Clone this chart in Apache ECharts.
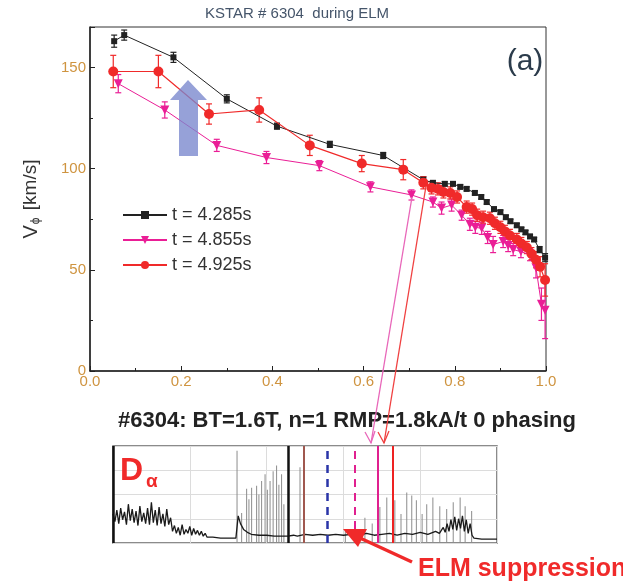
<!DOCTYPE html>
<html><head><meta charset="utf-8">
<script src="https://cdn.jsdelivr.net/npm/echarts@6/dist/echarts.min.js"></script>
<style>html,body{margin:0;padding:0;background:#fff}#c{width:623px;height:584px}</style>
</head><body><div id="c"></div>
<script>
// ---------- main panel data ----------
const seriesNames = ['t = 4.285s', 't = 4.855s', 't = 4.925s'];
const xTicks = [0.0, 0.2, 0.4, 0.6, 0.8, 1.0];
const yTicks = [0, 50, 100, 150];

const xBlack = [0.053,0.075,0.183,0.300,0.410,0.526,0.643,0.731,0.752,0.778,0.796,0.812,0.826,0.844,0.858,0.870,0.886,0.900,0.912,0.922,0.936,0.946,0.955,0.965,0.974,0.986,0.998];
const yBlack = [163,166,155,134.5,121,112,106.5,94.5,93,92.5,92.5,91,90,88,86,83.5,80,78.5,76,74,72,70,68.5,66.5,65,60,56];
const eBlack = [3,2.5,2.5,2,1.5,1.5,1.5,1.5,1,1,1,1,1,1,1,1,1,1,1,1,1,1,1,1,1,1.5,2];

const xMag = [0.062,0.164,0.278,0.387,0.503,0.615,0.705,0.752,0.771,0.793,0.815,0.833,0.845,0.859,0.872,0.884,0.906,0.917,0.928,0.945,0.965,0.978,0.990,0.998];
const yMag = [142,129,111.5,105.5,101.5,91,87,83.5,80.5,82,77,72.5,71,70.5,66,62.5,64,62,60,59,57.5,51,33,30];
const eMag = [4.5,4,3,3,2.5,2.5,2.5,2.5,3,3,2.5,3,3,3,3,4,3,3,3,3,3,5,8,14];

const xRed = [0.051,0.150,0.261,0.371,0.482,0.596,0.687,0.731,0.749,0.763,0.775,0.790,0.805,0.826,0.838,0.849,0.862,0.877,0.888,0.900,0.910,0.921,0.936,0.946,0.958,0.968,0.978,0.987,0.998];
const yRed = [148,148,127,129,111.5,102.5,99.5,93,90.5,90,88.5,88,86,81,80,77,76,75.5,73,71,69,67,65,63,61,58,55,51.5,45];
const eRed = [8,8,5,6,5,4,5,3,3,3,3,3,3,3,3,3,3,3,3,3,3,3,3,3,3,3,4,5,8];

// ---------- D-alpha inset data (arbitrary time units 0..100, signal 0..1) ----------
const dalphaBase = [[0,0.30],[0.5,0.22],[1,0.34],[1.5,0.20],[2,0.36],[2.5,0.24],[3,0.32],[3.5,0.19],[4,0.40],[4.5,0.23],[5,0.35],[5.5,0.21],[6,0.33],[6.5,0.18],[7,0.38],[7.5,0.22],[8,0.31],[8.5,0.20],[9,0.36],[9.5,0.19],[10,0.42],[10.5,0.21],[11,0.34],[11.5,0.18],[12,0.37],[12.5,0.20],[13,0.30],[13.5,0.17],[14,0.35],[14.5,0.19],
  [15,0.26],[15.5,0.12],[16,0.18],[16.5,0.10],[17,0.16],[17.5,0.08],[18,0.19],[18.5,0.09],[19,0.14],[19.5,0.10],[20,0.17],[20.5,0.08],[21,0.15],[21.5,0.09],[22,0.13],[22.5,0.08],[23,0.12],[23.5,0.07],[24,0.10],[24.5,0.06],
  [26,0.06],[28,0.05],[30,0.05],[32,0.05],[32.3,0.05],[32.6,0.28],[33.2,0.20],[34,0.14],[35,0.11],[36,0.09],[38,0.08],[40,0.08],[42,0.07],[45,0.07],
  [45.6,0.07],[47,0.08],[48,0.07],[50,0.09],[52,0.08],[54,0.09],[56,0.08],[58,0.09],[60,0.08],[62,0.09],[64,0.08],[66,0.10],[68,0.08],[70,0.09],[72,0.10],[74,0.08],[76,0.10],[78,0.09],[80,0.11],[82,0.09],[84,0.12],[85,0.10],[86,0.16],[86.5,0.11],[87,0.20],[87.5,0.12],[88,0.24],[88.5,0.14],[89,0.27],[89.5,0.13],[90,0.25],[90.5,0.15],[91,0.28],[91.5,0.12],[92,0.24],[92.5,0.10],[93,0.20],[93.5,0.08],[94,0.05],[96,0.04],[98,0.04],[100,0.04]];
const dalphaSpikes = [[32.3,0.95],[33.5,0.31],[34.8,0.56],[35.4,0.45],[36.1,0.57],[37.4,0.59],[38.0,0.50],[38.7,0.64],[39.6,0.71],[40.2,0.55],[40.9,0.64],[41.7,0.74],[42.6,0.80],[43.2,0.60],[43.9,0.71],[44.5,0.40],[48.7,0.78],[60.5,0.14],[65.6,0.26],[67.5,0.20],[69.5,0.37],[71.3,0.47],[73.4,0.44],[75.0,0.30],[76.5,0.52],[77.8,0.49],[79.0,0.44],[80.5,0.30],[81.7,0.40],[83.3,0.47],[85.1,0.38],[86.9,0.35],[88.6,0.42],[90.4,0.47],[91.7,0.38],[93.4,0.33]];
const markerTimes = [0, 45.6, 49.7, 55.7, 63.0, 69.0, 72.9];

// ---------- styling (kept separate from data) ----------
const markerStyles = [
  {color:'#111', width:2.5, type:'solid'},
  {color:'#111', width:2.5, type:'solid'},
  {color:'#a0584f', width:2, type:'solid'},
  {color:'#2a35a8', width:2.5, type:[8,6]},
  {color:'#e0208f', width:2, type:[8,6]},
  {color:'#e0208f', width:2, type:'solid'},
  {color:'#ee2222', width:2, type:'solid'}
];
const C_BLACK = '#222222', C_MAG = '#ea1e96', C_RED = '#f02a2a';
const labelColor = '#cf9440';
const FONT = 'Arial, "Liberation Sans", sans-serif';

function zip(xs, ys) { return xs.map((x, i) => [x, ys[i]]); }
function errSeries(xs, ys, es, color) {
  return {
    type: 'custom', xAxisIndex: 0, yAxisIndex: 0, silent: true, z: 3,
    data: xs.map((x, i) => [x, ys[i] - es[i], ys[i] + es[i]]),
    encode: {x: 0, y: [1, 2]},
    renderItem(params, api) {
      const lo = api.coord([api.value(0), api.value(1)]);
      const hi = api.coord([api.value(0), api.value(2)]);
      const w = 3, st = {stroke: color, lineWidth: 1.2};
      return {type: 'group', children: [
        {type: 'line', shape: {x1: lo[0], y1: lo[1], x2: hi[0], y2: hi[1]}, style: st},
        {type: 'line', shape: {x1: lo[0]-w, y1: lo[1], x2: lo[0]+w, y2: lo[1]}, style: st},
        {type: 'line', shape: {x1: hi[0]-w, y1: hi[1], x2: hi[0]+w, y2: hi[1]}, style: st}
      ]};
    }
  };
}

const chart = echarts.init(document.getElementById('c'), null, {renderer: 'canvas'});
const option = {
  backgroundColor: '#fff',
  animation: false,
  textStyle: {fontFamily: FONT},
  grid: [
    {left: 90, right: 77, top: 27, bottom: 213, show: true, borderColor: '#333', borderWidth: 1, z: 0},
    {left: 113, right: 126, top: 446, bottom: 41, show: true, borderColor: '#666', borderWidth: 1.5, backgroundColor: '#fff'}
  ],
  legend: {
    left: 117, top: 201, orient: 'vertical', itemWidth: 44, itemHeight: 10, itemGap: 7,
    data: seriesNames,
    textStyle: {fontSize: 18, color: '#333', fontFamily: FONT}
  },
  xAxis: [
    {type: 'value', gridIndex: 0, min: 0, max: 1, interval: 0.2,
     axisLine: {lineStyle: {color: '#222', width: 1.5}},
     axisTick: {inside: true, length: 5, lineStyle: {color: '#222'}},
     minorTick: {show: true, splitNumber: 2, length: 3, lineStyle: {color: '#222'}},
     splitLine: {show: false},
     axisLabel: {margin: 3, fontSize: 15, color: labelColor, fontFamily: FONT,
       formatter: v => xTicks.find(t => Math.abs(t - v) < 1e-9).toFixed(1)}},
    {type: 'value', gridIndex: 1, min: 0, max: 100, interval: 20,
     axisLine: {show: false}, axisTick: {show: false}, axisLabel: {show: false},
     splitLine: {show: true, lineStyle: {color: '#dcdcdc', width: 1}}}
  ],
  yAxis: [
    {type: 'value', gridIndex: 0, min: 0, max: 170, interval: 50,
     axisLine: {show: true, lineStyle: {color: '#222', width: 1.5}},
     axisTick: {show: true, inside: true, length: 5, lineStyle: {color: '#222'}},
     minorTick: {show: true, splitNumber: 2, length: 3, lineStyle: {color: '#222'}},
     splitLine: {show: false},
     axisLabel: {margin: 4, fontSize: 15, color: labelColor, fontFamily: FONT, showMaxLabel: false,
       formatter: v => (yTicks.indexOf(v) >= 0 ? String(v) : '')},
     name: '{v|V}{s|\u03d5} [km/s]', nameLocation: 'middle', nameGap: 48, nameRotate: 90,
     nameTextStyle: {fontSize: 19, color: '#333', fontFamily: FONT,
       rich: {v: {fontSize: 20, color: '#333', fontFamily: FONT},
              s: {fontSize: 12, color: '#333', fontFamily: FONT, verticalAlign: 'bottom', padding: [10, 2, 0, 1]}}}},
    {type: 'value', gridIndex: 1, min: 0, max: 1, interval: 0.25,
     axisLine: {show: false}, axisTick: {show: false}, axisLabel: {show: false},
     splitLine: {show: true, lineStyle: {color: '#dcdcdc', width: 1}}}
  ],
  series: [
    errSeries(xBlack, yBlack, eBlack, C_BLACK),
    errSeries(xMag, yMag, eMag, C_MAG),
    errSeries(xRed, yRed, eRed, C_RED),
    {name: seriesNames[0], type: 'line', data: zip(xBlack, yBlack), z: 4,
     symbol: 'rect', symbolSize: 6, itemStyle: {color: C_BLACK}, lineStyle: {color: C_BLACK, width: 1}},
    {name: seriesNames[1], type: 'line', data: zip(xMag, yMag), z: 5,
     symbol: 'triangle', symbolRotate: 180, symbolSize: 9, itemStyle: {color: C_MAG}, lineStyle: {color: C_MAG, width: 1}},
    {name: seriesNames[2], type: 'line', data: zip(xRed, yRed), z: 6,
     symbol: 'circle', symbolSize: 10, itemStyle: {color: C_RED}, lineStyle: {color: C_RED, width: 1.2}},
    // inset
    {type: 'bar', xAxisIndex: 1, yAxisIndex: 1, data: dalphaSpikes, barWidth: 1, silent: true,
     itemStyle: {color: '#8c8c8c'}},
    {type: 'line', xAxisIndex: 1, yAxisIndex: 1, data: dalphaBase, showSymbol: false, silent: true,
     lineStyle: {color: '#1a1a1a', width: 1.3},
     markLine: {silent: true, symbol: 'none', label: {show: false},
       data: markerTimes.map((t, i) => ({xAxis: t, lineStyle: markerStyles[i]}))}}
  ],
  graphic: [
    {type: 'text', x: 297, y: 14, z: 50,
     style: {text: 'KSTAR # 6304  during ELM', font: '15px ' + FONT, fill: '#45556a', align: 'center', verticalAlign: 'middle'}},
    {type: 'text', x: 525, y: 62, z: 50,
     style: {text: '(a)', font: '30px ' + FONT, fill: '#2b3b4b', align: 'center', verticalAlign: 'middle'}},
    {type: 'polygon', z: 60,
     shape: {points: [[179,156],[179,100],[170,100],[188,80],[207,100],[198,100],[198,156]]},
     style: {fill: 'rgba(120,135,205,0.78)'}},
    {type: 'line', z: 60, shape: {x1: 412, y1: 197, x2: 371, y2: 443}, style: {stroke: '#e867b9', lineWidth: 1.3}},
    {type: 'polyline', z: 60, shape: {points: [[365,432],[371,443],[375,431]]}, style: {stroke: '#e867b9', lineWidth: 1.3, fill: null}},
    {type: 'line', z: 60, shape: {x1: 426, y1: 186, x2: 384, y2: 443}, style: {stroke: '#f04040', lineWidth: 1.3}},
    {type: 'polyline', z: 60, shape: {points: [[378,432],[384,443],[389,431]]}, style: {stroke: '#f04040', lineWidth: 1.3, fill: null}},
    {type: 'text', x: 118, y: 421, z: 50,
     style: {text: '#6304: BT=1.6T, n=1 RMP=1.8kA/t 0 phasing', font: 'bold 22px ' + FONT, fill: '#222', align: 'left', verticalAlign: 'middle'}},
    {type: 'text', x: 120, y: 471, z: 70,
     style: {text: 'D', font: 'bold 32px ' + FONT, fill: '#f02a2a', align: 'left', verticalAlign: 'middle'}},
    {type: 'text', x: 146, y: 482, z: 70,
     style: {text: '\u03b1', font: 'bold 19px ' + FONT, fill: '#f02a2a', align: 'left', verticalAlign: 'middle'}},
    {type: 'line', z: 70, shape: {x1: 412, y1: 562, x2: 360, y2: 538}, style: {stroke: '#f02a2a', lineWidth: 3.5}},
    {type: 'polygon', z: 70, shape: {points: [[343,529],[367,529],[358,547]]}, style: {fill: '#f02a2a'}},
    {type: 'text', x: 418, y: 569, z: 70,
     style: {text: 'ELM suppression', font: 'bold 25px ' + FONT, fill: '#f02a2a', align: 'left', verticalAlign: 'middle'}}
  ]
};
chart.setOption(option);
</script></body></html>
